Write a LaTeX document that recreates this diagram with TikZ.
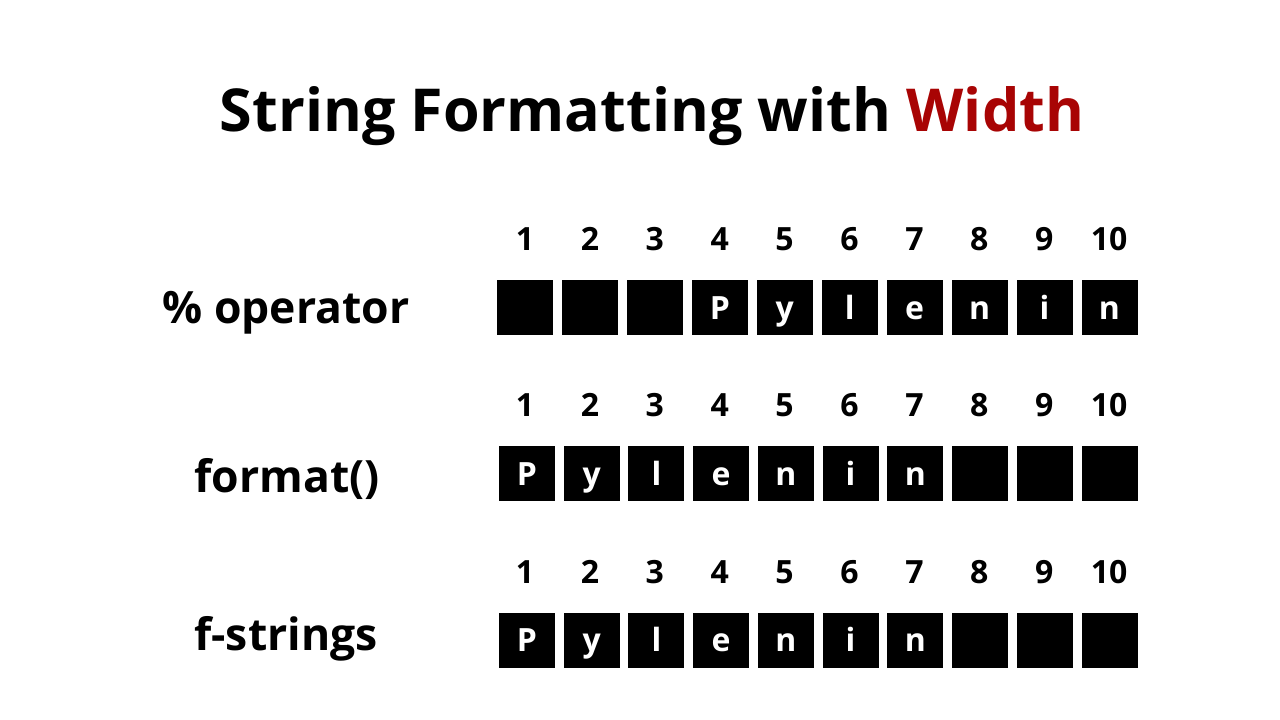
\documentclass[tikz,border=0pt]{standalone}
\usepackage{fontspec}
\setmainfont{Open Sans}
\definecolor{wred}{RGB}{168,4,4}
\begin{document}
\begin{tikzpicture}[x=1pt,y=-1pt,
  cell/.style={fill=black,minimum width=56pt,minimum height=55pt,inner sep=0pt,
    text=white,font=\fontsize{32}{36}\selectfont\bfseries,text height=23pt,text depth=0pt},
  num/.style={font=\fontsize{32}{36}\selectfont\bfseries,anchor=base,inner sep=0pt},
  lab/.style={font=\fontsize{44.5}{50}\selectfont\bfseries,anchor=base,inner sep=0pt},
  ttl/.style={font=\fontsize{59.2}{66}\selectfont\bfseries,anchor=base,inner sep=0pt}]
\useasboundingbox[fill=white] (0,0) rectangle (1280,720);
\node[ttl] (title) at (652,131) {String Formatting with \textcolor{wred}{Width}};
\node[lab] (lab1) at (286,323) {\% operator};
\node[lab] (lab2) at (287,492) {format()};
\node[lab] (lab3) at (286,650) {f-strings};
\foreach \r/\cx/\cy/\ny/\letters in {1/525/307.5/250/{ , , ,P,y,l,e,n,i,n},
                                 2/527/473.5/416/{P,y,l,e,n,i,n, , , },
                                 3/527/640/583/{P,y,l,e,n,i,n, , , }}{
  \foreach \L [count=\i] in \letters {
    \node[cell] (r\r c\i) at ({\cx+(\i-1)*(1109.5-\cx)/9},\cy) {\L};
    \node[num] (n\r c\i) at ({525+(\i-1)*64.9},\ny) {\i};
  }
}
\end{tikzpicture}
\end{document}
